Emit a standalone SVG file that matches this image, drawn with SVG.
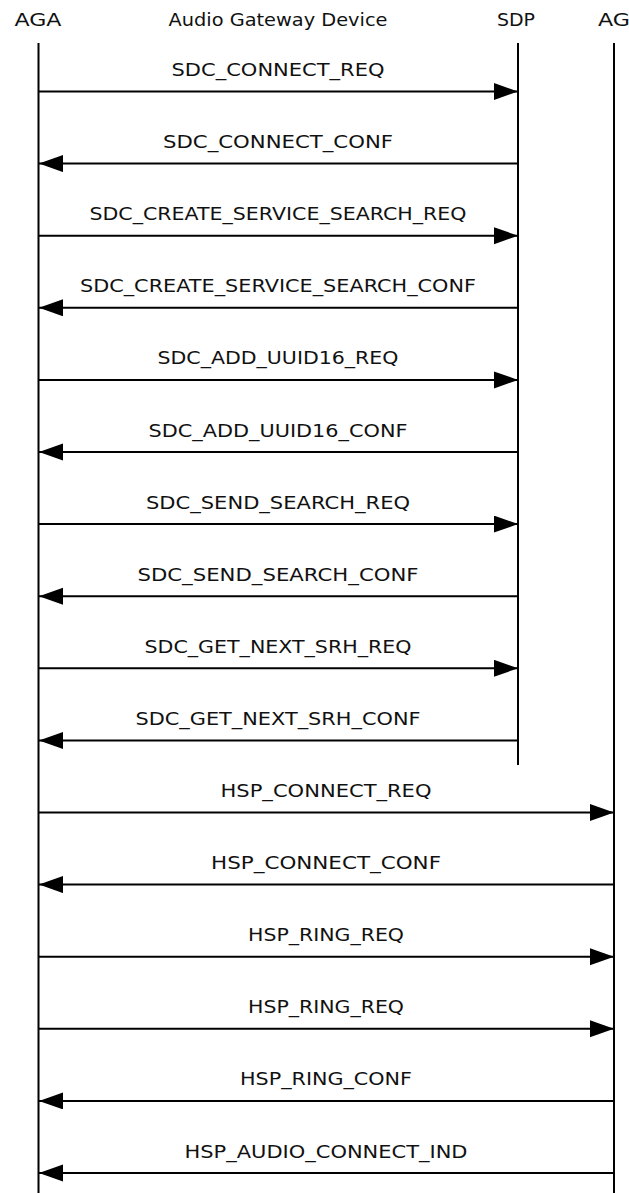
<svg xmlns="http://www.w3.org/2000/svg" width="629" height="1193" viewBox="0 0 629 1193">
<style>
text{font-family:"DejaVu Sans","Liberation Sans",Arial,sans-serif;font-size:17px;fill:#111;text-anchor:middle}
.life{stroke:#000;stroke-width:2;fill:none}
.msg{stroke:#000;stroke-width:2;fill:none;marker-end:url(#ah)}
</style>
<defs>
<marker id="ah" markerUnits="userSpaceOnUse" markerWidth="25" markerHeight="18" refX="24" refY="8.5" orient="auto" viewBox="0 0 25 18">
<path d="M0,0 L24,8.5 L0,17 z" fill="#000"/>
</marker>
</defs>
<rect width="629" height="1193" fill="#fff"/>
<g id="node-aga">
<text x="38" y="26" textLength="47" lengthAdjust="spacingAndGlyphs">AGA</text>
<line class="life" x1="38.5" y1="43" x2="38.5" y2="1193"/>
</g>
<g id="node-audio-gateway-device">
<text x="278" y="26" textLength="219" lengthAdjust="spacingAndGlyphs">Audio Gateway Device</text>
</g>
<g id="node-sdp">
<text x="516" y="26" textLength="38" lengthAdjust="spacingAndGlyphs">SDP</text>
<line class="life" x1="518" y1="43" x2="518" y2="765"/>
</g>
<g id="node-ag">
<text x="614" y="26" textLength="32" lengthAdjust="spacingAndGlyphs">AG</text>
<line class="life" x1="614" y1="43" x2="614" y2="1193"/>
</g>
<g id="connectors">
<line class="msg" x1="38.5" y1="91.5" x2="518" y2="91.5"/>
<text x="278" y="76" textLength="213" lengthAdjust="spacingAndGlyphs">SDC_CONNECT_REQ</text>
<line class="msg" x1="518" y1="163.6" x2="39" y2="163.6"/>
<text x="278" y="148" textLength="230" lengthAdjust="spacingAndGlyphs">SDC_CONNECT_CONF</text>
<line class="msg" x1="38.5" y1="235.7" x2="518" y2="235.7"/>
<text x="278" y="220" textLength="377" lengthAdjust="spacingAndGlyphs">SDC_CREATE_SERVICE_SEARCH_REQ</text>
<line class="msg" x1="518" y1="307.8" x2="39" y2="307.8"/>
<text x="278" y="292" textLength="396" lengthAdjust="spacingAndGlyphs">SDC_CREATE_SERVICE_SEARCH_CONF</text>
<line class="msg" x1="38.5" y1="379.9" x2="518" y2="379.9"/>
<text x="278" y="364" textLength="241" lengthAdjust="spacingAndGlyphs">SDC_ADD_UUID16_REQ</text>
<line class="msg" x1="518" y1="452" x2="39" y2="452"/>
<text x="278" y="436.5" textLength="259" lengthAdjust="spacingAndGlyphs">SDC_ADD_UUID16_CONF</text>
<line class="msg" x1="38.5" y1="524.1" x2="518" y2="524.1"/>
<text x="278" y="508.5" textLength="264" lengthAdjust="spacingAndGlyphs">SDC_SEND_SEARCH_REQ</text>
<line class="msg" x1="518" y1="596.2" x2="39" y2="596.2"/>
<text x="278" y="580.5" textLength="281" lengthAdjust="spacingAndGlyphs">SDC_SEND_SEARCH_CONF</text>
<line class="msg" x1="38.5" y1="668.3" x2="518" y2="668.3"/>
<text x="278" y="652.5" textLength="267" lengthAdjust="spacingAndGlyphs">SDC_GET_NEXT_SRH_REQ</text>
<line class="msg" x1="518" y1="740.4" x2="39" y2="740.4"/>
<text x="278" y="725" textLength="285" lengthAdjust="spacingAndGlyphs">SDC_GET_NEXT_SRH_CONF</text>
<line class="msg" x1="38.5" y1="812.5" x2="614" y2="812.5"/>
<text x="326" y="797" textLength="211" lengthAdjust="spacingAndGlyphs">HSP_CONNECT_REQ</text>
<line class="msg" x1="614" y1="884.6" x2="39" y2="884.6"/>
<text x="326" y="869" textLength="230" lengthAdjust="spacingAndGlyphs">HSP_CONNECT_CONF</text>
<line class="msg" x1="38.5" y1="956.7" x2="614" y2="956.7"/>
<text x="326" y="941" textLength="156" lengthAdjust="spacingAndGlyphs">HSP_RING_REQ</text>
<line class="msg" x1="38.5" y1="1028.8" x2="614" y2="1028.8"/>
<text x="326" y="1013" textLength="156" lengthAdjust="spacingAndGlyphs">HSP_RING_REQ</text>
<line class="msg" x1="614" y1="1100.9" x2="39" y2="1100.9"/>
<text x="326" y="1085" textLength="172" lengthAdjust="spacingAndGlyphs">HSP_RING_CONF</text>
<line class="msg" x1="614" y1="1173" x2="39" y2="1173"/>
<text x="326" y="1157.5" textLength="283" lengthAdjust="spacingAndGlyphs">HSP_AUDIO_CONNECT_IND</text>
</g>
</svg>
